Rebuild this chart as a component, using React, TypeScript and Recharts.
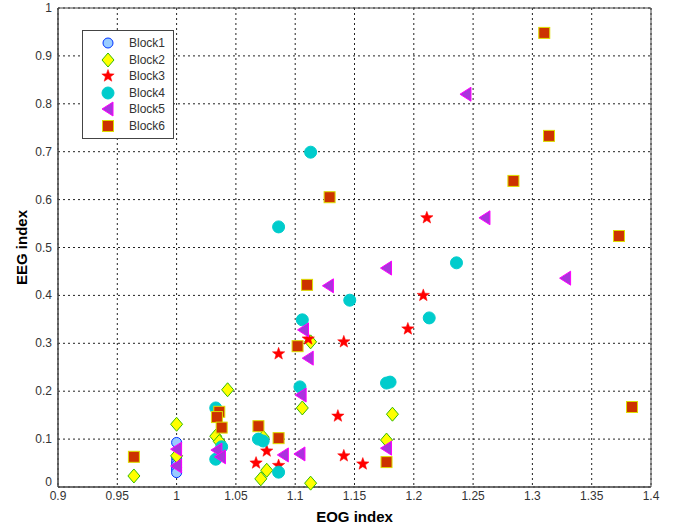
import { ScatterChart, Scatter, XAxis, YAxis, CartesianGrid, Legend, ReferenceArea } from 'recharts';

// [EOG, EEG] pairs per block
const block1 = [[1.0, 0.093], [1.0, 0.06], [1.0, 0.052], [1.0, 0.046], [1.0, 0.04], [1.0, 0.035], [1.0, 0.03]];
const block2 = [
  [0.964, 0.023], [1.0, 0.131], [1.0, 0.065], [1.043, 0.203], [1.033, 0.106], [1.036, 0.095],
  [1.071, 0.017], [1.076, 0.035], [1.073, 0.104], [1.106, 0.165], [1.113, 0.008], [1.113, 0.303],
  [1.182, 0.152], [1.177, 0.098],
];
const block3 = [
  [1.086, 0.278], [1.111, 0.309], [1.141, 0.303], [1.195, 0.33], [1.136, 0.148], [1.141, 0.065],
  [1.157, 0.048], [1.067, 0.05], [1.076, 0.075], [1.086, 0.045], [1.211, 0.562], [1.208, 0.4],
];
const block4 = [
  [1.113, 0.699], [1.086, 0.543], [1.146, 0.39], [1.106, 0.349], [1.236, 0.468], [1.213, 0.353],
  [1.177, 0.217], [1.18, 0.219], [1.104, 0.209], [1.033, 0.165], [1.038, 0.084], [1.033, 0.058],
  [1.069, 0.1], [1.073, 0.096], [1.086, 0.031],
];
const block5 = [
  [1.244, 0.82], [1.26, 0.562], [1.328, 0.436], [1.177, 0.457], [1.128, 0.42], [1.107, 0.328],
  [1.111, 0.269], [1.105, 0.192], [1.104, 0.069], [1.09, 0.067], [1.177, 0.081], [1.0, 0.079],
  [1.0, 0.044], [1.034, 0.077], [1.037, 0.063],
];
const block6 = [
  [1.31, 0.948], [1.314, 0.733], [1.284, 0.639], [1.373, 0.524], [1.384, 0.167], [1.129, 0.605],
  [1.11, 0.422], [1.102, 0.294], [1.036, 0.157], [1.034, 0.146], [1.038, 0.124], [1.069, 0.127],
  [1.086, 0.102], [0.964, 0.063], [1.177, 0.052],
];

const xTicks = [0.9, 0.95, 1, 1.05, 1.1, 1.15, 1.2, 1.25, 1.3, 1.35, 1.4];
const yTicks = [0, 0.1, 0.2, 0.3, 0.4, 0.5, 0.6, 0.7, 0.8, 0.9, 1];

const series = [
  { name: 'Block1', data: block1, kind: 'circle', fill: '#99ccff', stroke: '#0033ff' },
  { name: 'Block2', data: block2, kind: 'diamond', fill: '#ffff00', stroke: '#33bb00' },
  { name: 'Block3', data: block3, kind: 'star', fill: '#ff0000', stroke: '#ff0000' },
  { name: 'Block4', data: block4, kind: 'dot', fill: '#00cccc', stroke: '#00cccc' },
  { name: 'Block5', data: block5, kind: 'triangle', fill: '#aa33dd', stroke: '#ff00ff' },
  { name: 'Block6', data: block6, kind: 'square', fill: '#cc3300', stroke: '#dddd00' },
];

const font = 'Arial, "Liberation Sans", sans-serif';

const toPoints = (arr: number[][]) => arr.map(([x, y]) => ({ x, y }));

const starPath = (cx: number, cy: number, r: number) => {
  const pts: string[] = [];
  for (let i = 0; i < 10; i++) {
    const rr = i % 2 === 0 ? r : r * 0.42;
    const a = -Math.PI / 2 + (i * Math.PI) / 5;
    pts.push(`${cx + rr * Math.cos(a)},${cy + rr * Math.sin(a)}`);
  }
  return pts.join(' ');
};

const Marker = ({ kind, cx, cy, fill, stroke }: any) => {
  if (cx == null || cy == null) return null;
  switch (kind) {
    case 'circle':
      return <circle cx={cx} cy={cy} r={5} fill={fill} stroke={stroke} strokeWidth={1} />;
    case 'dot':
      return <circle cx={cx} cy={cy} r={6} fill={fill} stroke={stroke} strokeWidth={1} />;
    case 'diamond':
      return <polygon points={`${cx},${cy - 7} ${cx + 6},${cy} ${cx},${cy + 7} ${cx - 6},${cy}`} fill={fill} stroke={stroke} strokeWidth={1} />;
    case 'star':
      return <polygon points={starPath(cx, cy, 6.5)} fill={fill} stroke={stroke} strokeWidth={0.5} />;
    case 'triangle':
      return <polygon points={`${cx - 6},${cy} ${cx + 5},${cy - 7} ${cx + 5},${cy + 7}`} fill={fill} stroke={stroke} strokeWidth={1} />;
    case 'square':
      return <rect x={cx - 5.5} y={cy - 5.5} width={11} height={11} fill={fill} stroke={stroke} strokeWidth={1} />;
    default:
      return null;
  }
};

const LegendBox = () => (
  <div style={{ border: '1.5px solid #444', background: '#fff', padding: '4px 0', width: 92, boxSizing: 'border-box' }}>
    {series.map((s) => (
      <div key={s.name} style={{ display: 'flex', alignItems: 'center', height: 16.5 }}>
        <svg width={46} height={16} style={{ flex: 'none' }}>
          <Marker kind={s.kind} cx={25} cy={8} fill={s.fill} stroke={s.stroke} />
        </svg>
        <span style={{ fontSize: 12, color: '#333', fontFamily: font }}>{s.name}</span>
      </div>
    ))}
  </div>
);

const tickStyle = { fontSize: 12, fill: '#333', fontFamily: font };

// y tick: the "0" sits a little higher so it stacks above the x axis "0.9"
const YTick = ({ x, y, payload }: any) => (
  <text x={x} y={y} dy={payload.value === 0 ? -1 : 4} textAnchor="end" {...tickStyle}>
    {payload.value}
  </text>
);

export default function App() {
  return (
    <div style={{ position: 'absolute', left: 0, top: 0, width: 675, height: 527, background: '#fff' }}>
      <ScatterChart width={675} height={527} margin={{ top: 8, right: 24, left: 18, bottom: 0 }}>
        <CartesianGrid stroke="#222" strokeDasharray="2 3" />
        <XAxis
          type="number"
          dataKey="x"
          domain={[0.9, 1.4]}
          ticks={xTicks}
          interval={0}
          height={40}
          tickLine={false}
          tickSize={2}
          tickMargin={2}
          axisLine={{ stroke: '#444' }}
          tick={tickStyle}
          label={{ value: 'EOG index', position: 'insideBottom', offset: 5, style: { fontSize: 15, fontWeight: 'bold', fill: '#000', fontFamily: font } }}
        />
        <YAxis
          type="number"
          dataKey="y"
          domain={[0, 1]}
          ticks={yTicks}
          interval={0}
          width={40}
          tickLine={false}
          tickSize={4}
          tickMargin={2}
          axisLine={{ stroke: '#444' }}
          tick={<YTick />}
          label={{ value: 'EEG index', angle: -90, position: 'center', dx: -16, style: { fontSize: 15, fontWeight: 'bold', fill: '#000', fontFamily: font } }}
        />
        <ReferenceArea x1={0.9} x2={1.4} y1={0} y2={1} fill="none" stroke="#444" strokeWidth={1} />
        {series.map((s) => (
          <Scatter
            key={s.name}
            name={s.name}
            data={toPoints(s.data)}
            isAnimationActive={false}
            shape={(p: any) => <Marker kind={s.kind} cx={p.cx} cy={p.cy} fill={s.fill} stroke={s.stroke} />}
          />
        ))}
        <Legend
          layout="horizontal"
          verticalAlign="middle"
          align="center"
          content={<LegendBox />}
          wrapperStyle={{ position: 'absolute', left: 82, top: 30, width: 92 }}
        />
      </ScatterChart>
    </div>
  );
}
